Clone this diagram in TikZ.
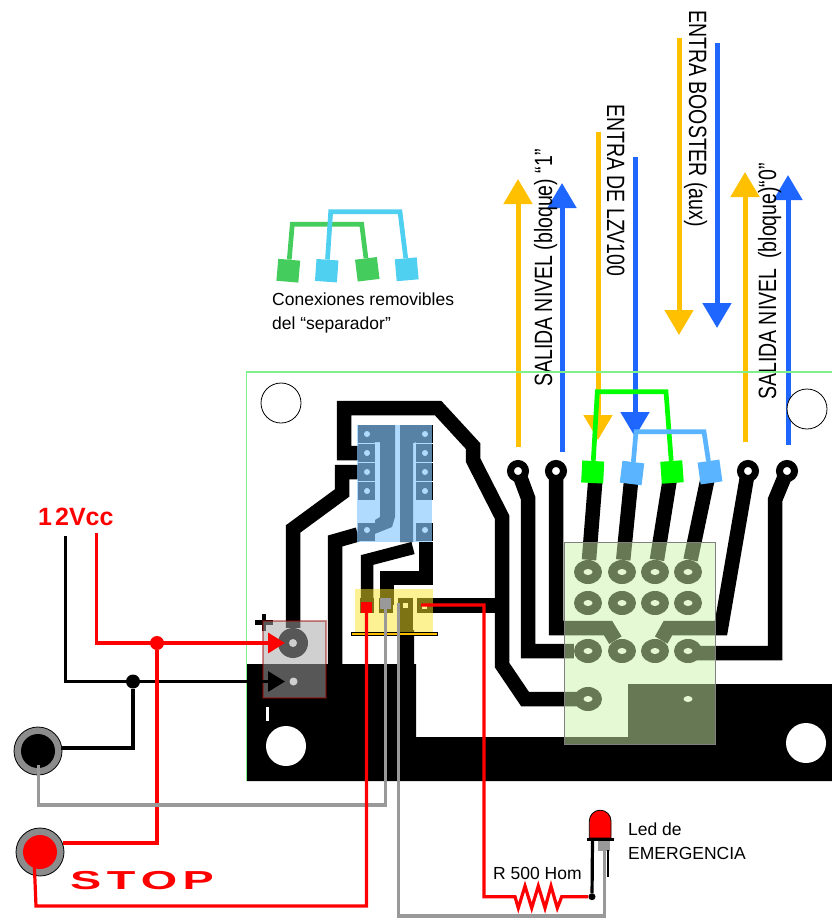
\documentclass[tikz,border=0pt]{standalone}
\usepackage{fontspec}
\usepackage{graphicx}
\setmainfont{Liberation Sans}
\usetikzlibrary{arrows.meta,shapes}
\definecolor{amber}{RGB}{255,192,0}
\definecolor{azure}{RGB}{31,102,255}
\definecolor{sepgreen}{RGB}{0,255,0}
\definecolor{sepblue}{RGB}{90,180,255}
\definecolor{keygreen}{RGB}{68,204,92}
\definecolor{keyblue}{RGB}{80,208,240}
\definecolor{boardline}{RGB}{128,240,140}
\definecolor{wiregray}{RGB}{153,153,153}
\newcommand{\narrowtext}[1]{\scalebox{.78}[1]{#1}}
\begin{document}
\begin{tikzpicture}[x=1pt,y=-1pt,
			trace/.style={line width=14.5pt,black},
			signal up/.style={line width=5pt,-{Triangle[length=25pt,width=28pt]}},
			signal down/.style={line width=5pt,-{Triangle[length=25pt,width=28pt]}},
			hole node/.style={circle,draw=black,line width=.8pt,fill=white,minimum size=40pt,inner sep=0},
			white hole/.style={circle,fill=white,minimum size=40pt,inner sep=0},
			ring node/.style={circle,draw=black,line width=7pt,fill=white,minimum size=15pt,inner sep=0},
			relay pin/.style={rectangle,fill=black,minimum width=17pt,minimum height=18pt,inner sep=0},
			pin hole/.style={circle,fill=white,minimum size=6pt,inner sep=0},
			socket pad/.style={ellipse,fill=black,minimum width=28pt,minimum height=24pt,inner sep=0},
			socket hole/.style={ellipse,fill=white,minimum width=9pt,minimum height=6pt,inner sep=0},
			jumper/.style={rectangle,minimum size=22pt,inner sep=0},
			wire/.style={line width=3.2pt},
			tip/.style={-{Triangle[length=17pt,width=20pt]}},
			side text/.style={font=\fontsize{25}{25}\selectfont,inner sep=0},
			note text/.style={font=\fontsize{17.5}{24}\selectfont,inner sep=0,align=left},
			button/.style={circle,draw=black,line width=.8pt,fill=gray!90,minimum size=48pt,inner sep=0},
			junction/.style={circle,minimum size=14pt,inner sep=0}
			]

			\useasboundingbox (0,0) rectangle (832,918);

			\coordinate (y1) at (518,447);
			\coordinate (y1t) at (518,179);
			\coordinate (b1) at (562,452);
			\coordinate (b1t) at (562,183);
			\coordinate (y2) at (598,132);
			\coordinate (y2t) at (598,440);
			\coordinate (b2) at (635,157);
			\coordinate (b2t) at (635,437);
			\coordinate (y3) at (679,38);
			\coordinate (y3t) at (679,335);
			\coordinate (b3) at (717,43);
			\coordinate (b3t) at (717,328);
			\coordinate (y4) at (745,442);
			\coordinate (y4t) at (745,172);
			\coordinate (b4) at (788,445);
			\coordinate (b4t) at (788,175);
			\draw[signal up,amber] (y1) -- (y1t);
			\draw[signal up,azure] (b1) -- (b1t);
			\draw[signal down,amber] (y2) -- (y2t);
			\draw[signal down,azure] (b2) -- (b2t);
			\draw[signal down,amber] (y3) -- (y3t);
			\draw[signal down,azure] (b3) -- (b3t);
			\draw[signal up,amber] (y4) -- (y4t);
			\draw[signal up,azure] (b4) -- (b4t);

			\node[side text,rotate=90,anchor=base west] (t1) at (552,387) {\narrowtext{SALIDA NIVEL (bloque) “1”}};
			\node[side text,rotate=90,anchor=base west] (t4) at (776,400) {\narrowtext{SALIDA NIVEL\hspace{6pt} (bloque)“0”}};
			\node[side text,rotate=-90,anchor=base west] (t2) at (607,104) {\narrowtext{ENTRA DE LZV100}};
			\node[side text,rotate=-90,anchor=base west] (t3) at (689,10) {\narrowtext{ENTRA BOOSTER (aux)}};

			\node[jumper,fill=keygreen,rotate=-5] (k1) at (288.3,270.7) {};
			\node[jumper,fill=keyblue,rotate=-4] (k2) at (326.7,270.7) {};
			\node[jumper,fill=keygreen,rotate=7] (k3) at (367.3,269.3) {};
			\node[jumper,fill=keyblue,rotate=5] (k4) at (406.7,269.3) {};
			\draw[line width=4.7pt,keygreen] (k1.north) -- (292.3,224.3) -- (361.7,224.3) -- (k3.north);
			\draw[line width=4.7pt,keyblue] (k2.north) -- (330.7,211.7) -- (400,211.7) -- (k4.north);
			\node[note text,anchor=base west] (key) at (272,329) {Conexiones removibles\\del “separador”};

			\draw[boardline,line width=1.2pt] (832,372) -- (246.5,372) -- (246.5,781);
			\node[hole node] (h1) at (281,403) {};
			\node[hole node] (h2) at (807,409) {};

			\fill[black] (247,664) -- (400,664) -- (400,630) -- (414,630) -- (414,664) -- (416,664) -- (416,737)
				-- (628,737) -- (628,684) -- (832,684) -- (832,781) -- (247,781) -- cycle;
			\node[white hole] (h3) at (286,746) {};
			\node[white hole] (h4) at (806,743) {};
			\draw[white,line width=3pt] (267.5,707) -- (267.5,721);

			\foreach \y in {434,453,472,491,532} {
				\node[relay pin] (pinl\y) at (366.5,\y) {};
				\node[relay pin] (pinr\y) at (424.5,\y) {};
			}
			\fill[black] (358,425) -- (395,425) -- (395,517) -- (392,527) -- (357,541) -- (358,523) -- (375,523)
				-- (375,520) -- (380,517) -- (380,442) -- (358,442) -- cycle;
			\fill[black] (400,425) -- (432,425) -- (432,442) -- (417,442) -- (413,443) -- (413,542) -- (400,542) -- cycle;
			\foreach \y in {434,453,472,491,530} {
				\node[pin hole] (lh\y) at (367,\y) {};
				\node[pin hole] (rh\y) at (425,\y) {};
			}

			\node[circle,fill=black,minimum size=30pt,inner sep=0] (term) at (293,643) {};
			\draw[trace] (pinl453) -- (344,453) -- (344,408) -- (438,408) -- (473,446) -- (473,460) -- (502,517)
				-- (502,665) -- (525,699) -- (589,699);
			\draw[trace] (pinl472) -- (342,472) -- (342,493) -- (293,529) -- (term);
			\draw[trace] (pinl532) -- (335,541) -- (335,664);
			\draw[line width=12.5pt] (413,548) -- (367,560) -- (367,605);
			\draw[trace] (426,542) -- (426,578) -- (387,578) -- (387,605);
			\draw[trace] (430,605.5) -- (502,605.5);

			\fill[black] (360,598) rectangle (374,613);
			\fill[black] (379,598) rectangle (393,613);
			\fill[black] (398,598) rectangle (413,632);
			\fill[black] (417,598) rectangle (433,613);
			\fill[white] (403,602.5) rectangle (408,607.5);
			\fill[white] (422,603.5) rectangle (427,608.5);

			\fill[fill={rgb,255:red,135;green,200;blue,254},fill opacity=.65] (357,425) rectangle (432,542);
			\fill[fill={rgb,255:red,250;green,230;blue,40},fill opacity=.5] (355,589) rectangle (433,632);
			\draw[black,fill=amber,line width=.6pt] (351,632) rectangle (437,635);

			\foreach \c/\x in {1/588,2/622,3/655,4/688}
				\foreach \r/\y in {1/572,2/603,3/651}
					\node[socket pad] (pad\r\c) at (\x,\y) {};
			\node[socket pad] (pad41) at (588,699) {};

			\coordinate (out1) at (518,471);
			\coordinate (out2) at (556,471);
			\coordinate (out3) at (748,471);
			\coordinate (out4) at (787,471);
			\draw[trace] (out1) -- (528,498) -- (528,651) -- (pad31);
			\draw[trace] (out2) -- (556,628) -- (608,628) -- (pad32);
			\draw[trace] (out3) -- (721,628) -- (668,628) -- (pad33);
			\draw[trace] (out4) -- (775,500) -- (775,653) -- (688,653);
			\draw[trace] (596,472) -- (pad11);
			\draw[trace] (632,472) -- (pad12);
			\draw[trace] (671,472) -- (pad13);
			\draw[trace] (709,472) -- (pad14);
			\node[ring node] (r1) at (out1) {};
			\node[ring node] (r2) at (out2) {};
			\node[ring node] (r3) at (out3) {};
			\node[ring node] (r4) at (out4) {};
			\foreach \c/\x in {1/588,2/622,3/655,4/688}
				\foreach \r/\y in {1/572,2/603,3/651}
					\node[socket hole] (sh\r\c) at (\x,\y) {};
			\node[socket hole] (sh41) at (588,699) {};
			\node[socket hole] (sh44) at (688,699) {};

			\draw[gray,fill={rgb,255:red,204;green,243;blue,169},fill opacity=.5,line width=1pt] (564,542) rectangle (715,744);

			\node[circle,fill=white,minimum size=8pt,inner sep=0] (term1) at (293,643) {};
			\node[circle,fill=white,minimum size=8pt,inner sep=0] (term2) at (293.5,681.5) {};
			\draw[line width=4.5pt] (255,622.5) -- (273,622.5);
			\draw[line width=4.5pt] (264,614) -- (264,631);
			\fill[fill=gray!70,fill opacity=.53] (263,621) rectangle (326,698);
			\draw[red!60!black,opacity=.45,line width=2.5pt] (263,621) rectangle (326,698);

			\node[jumper,fill=sepgreen,rotate=-3] (s1) at (592.7,472) {};
			\node[jumper,fill=sepblue,rotate=-7] (s2) at (632,473) {};
			\node[jumper,fill=sepgreen,rotate=4] (s3) at (672,472) {};
			\node[jumper,fill=sepblue,rotate=8] (s4) at (710,472) {};
			\draw[line width=4.7pt,sepgreen] (s1.north) -- (597.3,391.7) -- (666,391.7) -- (s3.north);
			\draw[line width=4.7pt,sepblue] (s2.north) -- (636,431.7) -- (704,431.7) -- (s4.north);

			\node[button] (bt1) at (38,751) {};
			\node[circle,fill=black,minimum size=34pt,inner sep=0] (bt1c) at (38,751) {};
			\node[button] (bt2) at (40,852) {};
			\node[circle,fill=red,minimum size=34pt,inner sep=0] (bt2c) at (40,852) {};

			\node[rectangle,fill=red,minimum size=11pt,inner sep=0] (con1) at (366.5,607) {};
			\node[rectangle,fill=wiregray,minimum size=11pt,inner sep=0] (con2) at (385.5,603.5) {};
			\coordinate (con3) at (398.3,603);
			\coordinate (con4) at (421,605);

			\node[junction,fill=red] (jr) at (157,643) {};
			\node[junction,fill=black] (jb) at (133,681.5) {};
			\coordinate (vplus) at (96.7,533);
			\coordinate (vminus) at (65.7,536);
			\coordinate (tplus) at (285,643);
			\coordinate (tminus) at (285,681.5);
			\coordinate (bw1) at (38.3,765);
			\coordinate (bw2) at (34,857);
			\coordinate (bk1) at (61,748);
			\coordinate (bk2) at (63,843);

			\draw[wire,tip,red] (vplus) |- (tplus);
			\draw[wire,tip,black] (vminus) |- (tminus);
			\draw[wire,black] (jb) |- (bk1);
			\draw[wire,red] (jr) |- (bk2);
			\draw[wire,wiregray] (bw1) -- (38.3,805) -| (con2);
			\draw[wire,red] (bw2) -- (36,906) -| (con1);

			\draw[fill=red,draw=black,line width=.8pt] (589.3,838) -- (589.3,821) arc (180:360:10.85) -- (611,838) -- cycle;
			\draw[fill=black,draw=black] (587.3,838) rectangle (613.3,840);
			\node[rectangle,fill=wiregray,minimum width=12pt,minimum height=10pt,inner sep=0] (ledk) at (604.2,845.7) {};
			\coordinate (leda) at (592.5,840);
			\draw[line width=2pt] (607.5,850) -- (607.5,876.7);
			\draw[wire,wiregray] (con3) -- (398.3,916) -| (ledk);

			\node[circle,fill=black,minimum size=7pt,inner sep=0] (ledj) at (592,896.7) {};
			\draw[wire,red] (con4) -- (484,605) -- (484,896.7) -- (515,896.7) -- (518.3,908) -- (525,886) -- (531.7,908)
				-- (538.3,886) -- (545,908) -- (551,886) -- (557.3,908) -- (561.7,896.7) -- (ledj);
			\draw[wire,black] (ledj) -- (leda);

			\node[inner sep=0,anchor=base west,text=red,font=\fontsize{25}{25}\selectfont\bfseries] (v12) at (38,525) {1\hspace{3pt}2Vcc};
			\node[inner sep=0,anchor=base west,text=red,font=\fontsize{26}{26}\selectfont\bfseries] (stop) at (70,889) {\scalebox{1.8}[1]{S\hspace{3pt}T\hspace{3pt}O\hspace{3pt}P}};
			\node[note text,anchor=base west] (ledt) at (628,859) {Led de\\EMERGENCIA};
			\node[note text,anchor=base west] (rt) at (493,879) {R 500 Hom};
		\end{tikzpicture}
\end{document}
